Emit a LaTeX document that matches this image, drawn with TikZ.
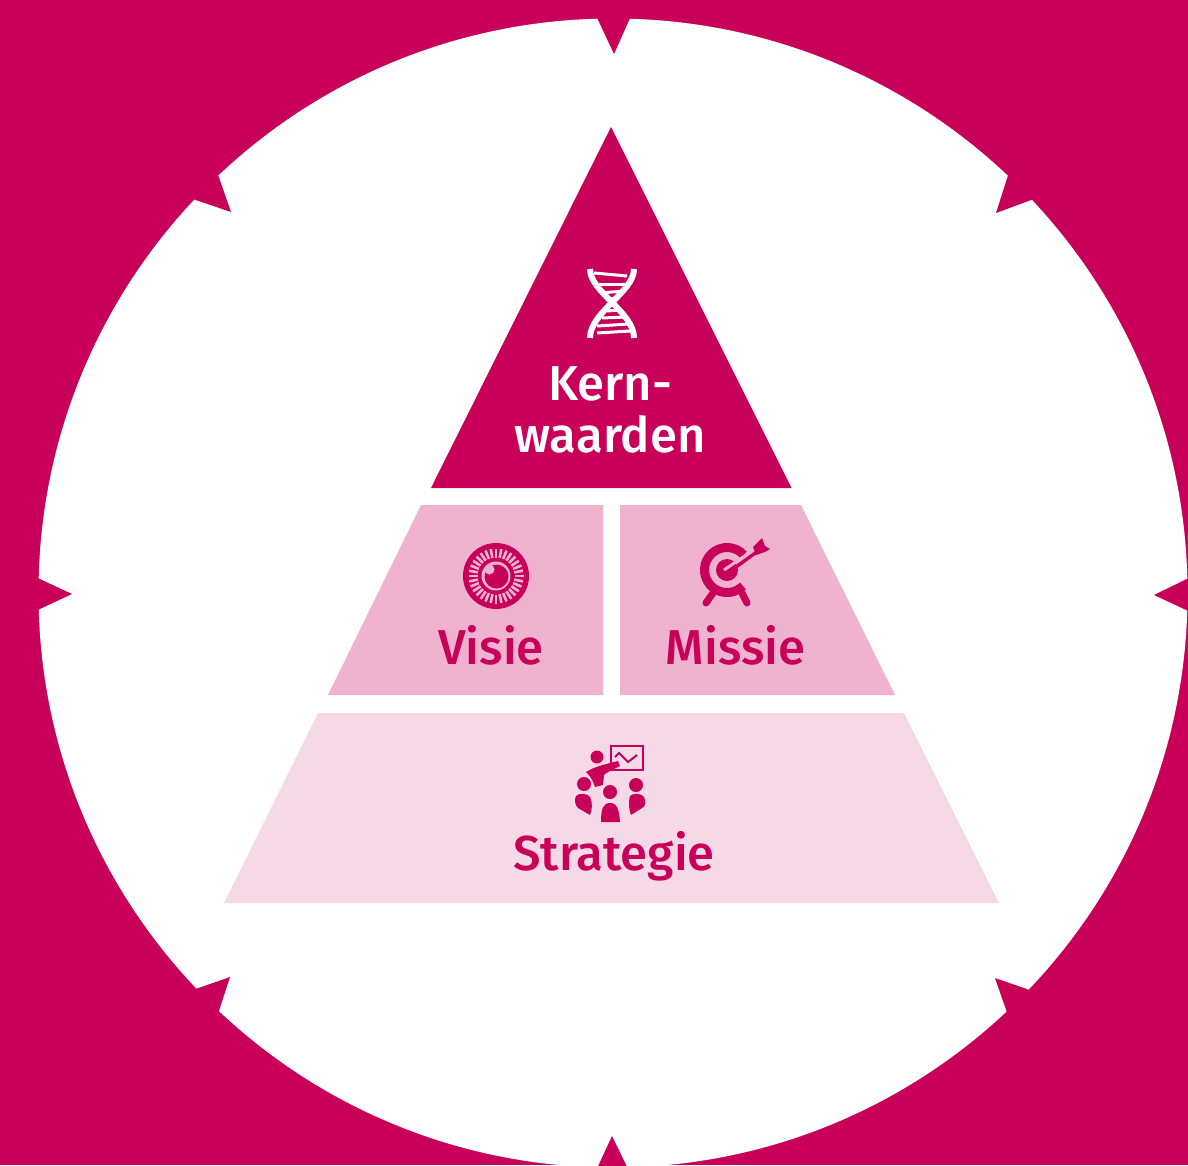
\documentclass[tikz,border=0pt]{standalone}
\usepackage{fontspec}
\setmainfont{Fira Sans}[UprightFont=* Medium,BoldFont=* SemiBold]
\definecolor{mag}{HTML}{C8005A}
\definecolor{midp}{HTML}{EFB3CF}
\definecolor{lightp}{HTML}{F6D9E7}
\tikzset{
  notch/.style={fill=mag,draw=none},
  lbl/.style={anchor=base,inner sep=0pt,font=\fontsize{49}{49}\selectfont},
  ink/.style={fill=mag,draw=none},
  strand/.style={draw=white,line width=6pt,line cap=butt},
  rung/.style={draw=white,line width=3pt}
}
\begin{document}
\begin{tikzpicture}[x=1pt,y=-1pt]
\useasboundingbox (0,0) rectangle (1188,1165);
\clip (0,0) rectangle (1188,1165);
\fill[mag] (0,0) rectangle (1188,1165);
\fill[white] (613,593) circle[radius=574.5];
% notches
\path[notch] (592,7) -- (614,54) -- (635,7) -- cycle;
\path[notch] (27,573) -- (72,594) -- (27,615) -- cycle;
\path[notch] (1199,573) -- (1154,595) -- (1199,616) -- cycle;
\path[notch] (594,1175) -- (612,1136) -- (631,1175) -- cycle;
\path[notch] (215,166) -- (231,212) -- (184,196) -- cycle;
\path[notch] (1011,166) -- (996,213) -- (1042,196) -- cycle;
\path[notch] (184,993) -- (230,977) -- (215,1023) -- cycle;
\path[notch] (1041,994) -- (995,978) -- (1011,1024) -- cycle;
% pyramid
\fill[mag] (611,127) -- (791.5,488) -- (431,488) -- cycle;
\fill[midp] (421,505) -- (603,505) -- (603,695) -- (328,695) -- cycle;
\fill[midp] (620,505) -- (801,505) -- (895,695) -- (620,695) -- cycle;
\fill[lightp] (318,713) -- (904,713) -- (999,903) -- (224,903) -- cycle;
% labels
\node[lbl,text=white] (kern) at (610,400) {Kern-};
\node[lbl,text=white] (waarden) at (610,452) {waarden};
\node[lbl,text=mag] (visie) at (491,664) {Visie};
\node[lbl,text=mag] (missie) at (735.5,664) {Missie};
\node[lbl,text=mag] (strategie) at (614,870) {Strategie};
% DNA icon
\draw[strand] (590,269) .. controls (590,292) and (634,312) .. (634,338);
\draw[strand] (634,269) .. controls (634,292) and (590,312) .. (590,338);
\draw[rung] (594,273) -- (627,276);
\draw[rung] (597,284) -- (628,284);
\draw[rung] (600,293) -- (624,291);
\draw[rung] (606,299) -- (619,298);
\draw[rung] (607,311) -- (620,310);
\draw[rung] (602,318) -- (626,317);
\draw[rung] (597,326) -- (629,324);
\draw[rung] (597,333) -- (630,331);
% eye icon
\fill[mag] (496,576) circle[radius=33];
\foreach \a in {0,11.25,...,349} {
  \draw[midp,line width=2.6pt] (496,576) ++(\a:18.5) -- ++(\a:9);
}
\fill[midp] (496,576) circle[radius=14.5];
\fill[mag] (496.5,576.5) circle[radius=12];
\fill[midp] (489.5,569.5) circle[radius=5];
% target icon
\draw[mag,line width=9pt,line cap=butt] (727,570) ++(-42:22.5) arc[start angle=-42,end angle=-315,radius=22.5,y=-1pt];
\fill[mag] (727,570) circle[radius=11];
\draw[mag,line width=3pt] (727,573) -- (758,551);
\draw[midp,line width=3pt] (724,570) -- (746,555);
\draw[mag,line width=3pt] (727,574) -- (758,551);
\fill[mag] (753,547) -- (762,538) -- (765,546) -- (770,549) -- (765,552) -- (756,555) -- cycle;
\draw[mag,line width=7pt,line cap=round] (713,593) -- (706,603);
\draw[mag,line width=7pt,line cap=round] (742,593) -- (747,603);
% strategy icon
\draw[mag,line width=2pt] (611,746) rectangle (643,770);
\draw[mag,line width=2pt] (615,757) -- (619,753) -- (628,762) -- (637,755);
\fill[mag] (597,757) circle[radius=6.5];
\path[ink] (586,772) .. controls (594,767) and (602,765) .. (618,761) -- (620,766) .. controls (610,771) and (606,773) .. (604,775) -- (603,785) -- (595,787) .. controls (593,780) and (590,776) .. (586,772) -- cycle;
\fill[mag] (584,784) circle[radius=7];
\path[ink] (576,796) .. controls (578,793) and (588,793) .. (590,797) .. controls (593,803) and (592,810) .. (590,815) -- (578,808) .. controls (575,805) and (574,800) .. (576,796) -- cycle;
\fill[mag] (610,792) circle[radius=7];
\path[ink] (601,822) .. controls (601,809) and (603,803) .. (610,803) .. controls (617,803) and (619,809) .. (620,822) -- cycle;
\fill[mag] (636,785) circle[radius=7];
\path[ink] (630,796) .. controls (632,793) and (642,793) .. (644,797) .. controls (646,802) and (646,806) .. (642,808) -- (631,815) .. controls (629,810) and (628,802) .. (630,796) -- cycle;
\end{tikzpicture}
\end{document}
